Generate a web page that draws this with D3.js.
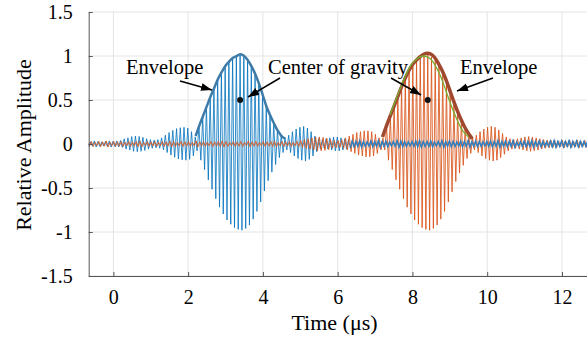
<!DOCTYPE html>
<html>
<head>
<meta charset="utf-8">
<script src="https://cdn.jsdelivr.net/npm/d3@7"></script>
<style>
  html, body { margin: 0; padding: 0; background: #fff; }
  svg { display: block; font-family: "Liberation Serif", "Times New Roman", serif; }
</style>
</head>
<body>
<svg id="chart" width="587" height="339"></svg>
<script>
// tick labels
const xTicks = [0, 2, 4, 6, 8, 10, 12];
const yTicks = [-1.5, -1, -0.5, 0, 0.5, 1, 1.5];

// carrier: one peak value per cycle (period in us)
const period = 0.1;
const blueStart = -0.71;
const bluePeaks = [
  0.03, 0.025, 0.035, 0.03, 0.025, 0.03, 0.035, 0.03, 0.035,
  0.04, 0.06, 0.07, 0.085, 0.09, 0.085, 0.075, 0.06, 0.05, 0.045, 0.05,
  0.07, 0.1, 0.13, 0.155, 0.175, 0.185, 0.19, 0.18, 0.14, 0.08,
  0.19, 0.3, 0.42, 0.53, 0.64, 0.74, 0.82, 0.89, 0.94, 0.98, 1.0, 1.01,
  0.99, 0.95, 0.88, 0.79, 0.68, 0.55, 0.43, 0.33, 0.24, 0.16, 0.1, 0.07,
  0.1, 0.14, 0.17, 0.19, 0.2, 0.18, 0.14, 0.09, 0.06,
  0.05, 0.06, 0.07, 0.08, 0.08, 0.07, 0.06, 0.05,
  0.035, 0.03, 0.04, 0.03, 0.025, 0.035, 0.03, 0.04, 0.03, 0.035,
  0.025, 0.03, 0.04, 0.035, 0.03, 0.025, 0.03, 0.035, 0.04, 0.03,
  0.03, 0.035, 0.025, 0.03, 0.04, 0.03, 0.035, 0.03, 0.025, 0.035,
  0.03, 0.04, 0.03, 0.035, 0.03, 0.025, 0.03, 0.035, 0.03, 0.04,
  0.03, 0.035, 0.03, 0.04, 0.025, 0.03, 0.035, 0.03, 0.04, 0.03,
  0.035, 0.03, 0.025, 0.035, 0.04, 0.03, 0.035, 0.03, 0.04, 0.03,
  0.035, 0.03, 0.03, 0.035
];
const redStart = -0.69;
const redPeaks = [
  0.025, 0.03, 0.02, 0.03, 0.025, 0.035, 0.02, 0.03, 0.025, 0.03,
  0.02, 0.03, 0.025, 0.03, 0.035, 0.02, 0.03, 0.025, 0.03, 0.02,
  0.03, 0.025, 0.035, 0.03, 0.02, 0.03, 0.025, 0.03, 0.02, 0.035,
  0.025, 0.03, 0.02, 0.03, 0.025, 0.03, 0.035, 0.03, 0.02, 0.03,
  0.025, 0.03, 0.02, 0.035, 0.025, 0.03, 0.02, 0.03, 0.025, 0.03,
  0.035, 0.02, 0.03, 0.025, 0.03, 0.02, 0.03,
  0.04, 0.05, 0.06, 0.07, 0.08, 0.08, 0.075, 0.065, 0.05, 0.04, 0.04,
  0.05, 0.07, 0.09, 0.11, 0.13, 0.14, 0.15, 0.15, 0.14, 0.11, 0.07,
  0.07, 0.19, 0.3, 0.42, 0.53, 0.64, 0.74, 0.82, 0.89, 0.94, 0.98, 1.0, 1.01,
  0.99, 0.95, 0.88, 0.79, 0.68, 0.56, 0.44, 0.34, 0.25, 0.17, 0.11, 0.07,
  0.1, 0.14, 0.17, 0.19, 0.2, 0.19, 0.16, 0.12, 0.08, 0.06,
  0.05, 0.06, 0.07, 0.08, 0.085, 0.08, 0.07, 0.06, 0.05, 0.045, 0.04,
  0.04, 0.035, 0.045, 0.03, 0.04, 0.035, 0.045, 0.03, 0.04, 0.035
];

// envelopes, sampled every 0.1 us
const envStep = 0.1;
const blueEnvStart = 2.2;
const blueEnv = [0.09, 0.21, 0.32, 0.43, 0.54, 0.64, 0.74, 0.82, 0.89, 0.94, 0.98, 1.0, 1.02,
  1.0, 0.95, 0.88, 0.79, 0.68, 0.55, 0.42, 0.32, 0.23, 0.15, 0.09, 0.06];
const redEnvStart = 7.2;
const redEnv = [0.08, 0.2, 0.31, 0.42, 0.53, 0.64, 0.74, 0.83, 0.9, 0.95, 0.99, 1.02, 1.03,
  1.02, 0.98, 0.91, 0.83, 0.73, 0.61, 0.49, 0.38, 0.28, 0.19, 0.12, 0.06];
const greenEnvStart = 7.4;
const greenEnv = [0.33, 0.44, 0.55, 0.66, 0.76, 0.85, 0.92, 0.96, 0.99, 1.0, 0.99,
  0.96, 0.9, 0.82, 0.72, 0.6, 0.48, 0.37, 0.27, 0.18, 0.12, 0.08];

// centres of gravity
const centres = [[3.39, 0.5], [8.41, 0.5]];

const svg = d3.select("#chart");
const x = d3.scaleLinear().domain([-0.66, 12.67]).range([88.7, 587]);
const y = d3.scaleLinear().domain([-1.5, 1.5]).range([276, 12]);

svg.append("defs").append("clipPath").attr("id", "clip")
  .append("rect").attr("x", 88.7).attr("y", 12).attr("width", 587 - 88.7).attr("height", 264);

const marker = svg.select("defs").append("marker")
  .attr("id", "arrow").attr("markerUnits", "userSpaceOnUse")
  .attr("markerWidth", 12).attr("markerHeight", 10)
  .attr("refX", 11).attr("refY", 4).attr("orient", "auto");
marker.append("path").attr("d", "M0,0 L11,4 L0,8 Z").attr("fill", "#000");

// grid
svg.append("g").selectAll("line").data(xTicks).join("line")
  .attr("x1", d => x(d)).attr("x2", d => x(d)).attr("y1", 12).attr("y2", 276)
  .attr("stroke", "#e4e4e4").attr("stroke-width", 1);
svg.append("g").selectAll("line").data(yTicks).join("line")
  .attr("x1", 88.7).attr("x2", 587).attr("y1", d => y(d)).attr("y2", d => y(d))
  .attr("stroke", "#e4e4e4").attr("stroke-width", 1);

function carrier(peaks, start) {
  const pts = [];
  peaks.forEach((a, i) => {
    const t = start + i * period;
    pts.push([t, a]);
    pts.push([t + period / 2, -a * 0.97]);
  });
  return pts;
}
function envelope(vals, start) {
  return vals.map((v, i) => [start + i * envStep, v]);
}

const line = d3.line().x(d => x(d[0])).y(d => y(d[1]));
const smooth = d3.line().x(d => x(d[0])).y(d => y(d[1])).curve(d3.curveCatmullRom);
const plot = svg.append("g").attr("clip-path", "url(#clip)");

const bluePts = carrier(bluePeaks, blueStart);
const redPts = carrier(redPeaks, redStart);

plot.append("path").attr("d", line(bluePts))
  .attr("fill", "none").attr("stroke", "#0072BD").attr("stroke-width", 1).attr("stroke-opacity", 0.8);
plot.append("path").attr("d", line(redPts))
  .attr("fill", "none").attr("stroke", "#D95319").attr("stroke-width", 1).attr("stroke-opacity", 0.85);
// blue noise drawn again over the red pulse
plot.append("path").attr("d", line(bluePts.filter(d => d[0] > 6.3)))
  .attr("fill", "none").attr("stroke", "#2f7fc1").attr("stroke-width", 1.3);

plot.append("path").attr("d", smooth(envelope(blueEnv, blueEnvStart)))
  .attr("fill", "none").attr("stroke", "#3f7ba8").attr("stroke-width", 2.5);
plot.append("path").attr("d", smooth(envelope(redEnv, redEnvStart)))
  .attr("fill", "none").attr("stroke", "#a0492f").attr("stroke-width", 3.5);
plot.append("path").attr("d", smooth(envelope(greenEnv, greenEnvStart)))
  .attr("fill", "none").attr("stroke", "#77AC30").attr("stroke-width", 1.3);

svg.append("g").selectAll("circle").data(centres).join("circle")
  .attr("cx", d => x(d[0])).attr("cy", d => y(d[1])).attr("r", 3).attr("fill", "#111");

// axes
const xAxis = svg.append("g").attr("transform", "translate(0,276)")
  .call(d3.axisBottom(x).tickValues(xTicks).tickSizeInner(-4).tickSizeOuter(0).tickPadding(14));
const yAxis = svg.append("g").attr("transform", "translate(88.7,0)")
  .call(d3.axisLeft(y).tickValues(yTicks).tickSizeInner(-4).tickSizeOuter(0).tickPadding(16)
    .tickFormat(d => String(d)));
[xAxis, yAxis].forEach(g => {
  g.attr("font-family", null);
  g.select(".domain").attr("stroke", "#555");
  g.selectAll(".tick line").attr("stroke", "#555");
  g.selectAll("text").attr("font-size", 20).attr("fill", "#000")
    .attr("font-family", "Liberation Serif, serif");
});

svg.append("text").attr("x", 334.5).attr("y", 330).attr("text-anchor", "middle")
  .attr("font-size", 22).text("Time (μs)");
svg.append("text").attr("transform", "translate(31,145) rotate(-90)").attr("text-anchor", "middle")
  .attr("font-size", 22).text("Relative Amplitude");

// annotations
const notes = [
  { text: "Envelope", tx: 126, ty: 74 },
  { text: "Center of gravity", tx: 268, ty: 74 },
  { text: "Envelope", tx: 460, ty: 74 }
];
svg.append("g").selectAll("text").data(notes).join("text")
  .attr("x", d => d.tx).attr("y", d => d.ty).attr("font-size", 20.5).text(d => d.text);

const arrows = [
  [180, 81, 212, 90],
  [280, 78, 248, 97],
  [391, 78, 421, 95],
  [493, 78, 457, 91]
];
svg.append("g").selectAll("line").data(arrows).join("line")
  .attr("x1", d => d[0]).attr("y1", d => d[1]).attr("x2", d => d[2]).attr("y2", d => d[3])
  .attr("stroke", "#000").attr("stroke-width", 1.5).attr("marker-end", "url(#arrow)");
</script>
</body>
</html>
